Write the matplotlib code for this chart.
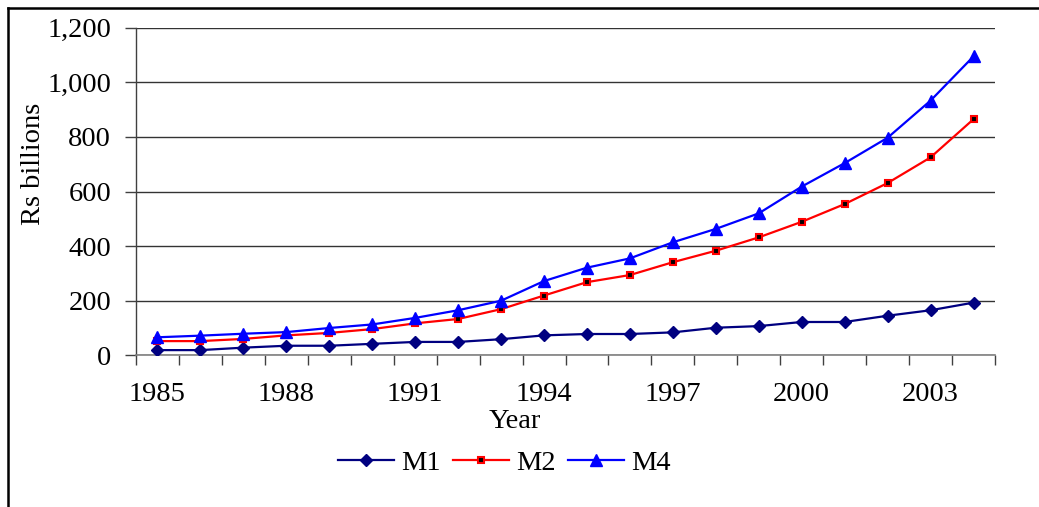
import numpy as np
import matplotlib
matplotlib.use("Agg")
import matplotlib.pyplot as plt
from matplotlib.lines import Line2D
from matplotlib.ticker import FuncFormatter

# Money supply aggregates, Rs billions
years = list(range(1985, 2005))
m1 = [19, 19, 28, 35, 35, 42, 49, 49, 59, 73, 78, 78, 84, 101, 107, 122, 122, 145, 165, 193]
m2 = [52, 52, 60, 73, 82, 96, 117, 133, 169, 219, 268, 294, 341, 383, 432, 489, 554, 631, 725, 865]
m4 = [66, 72, 79, 85, 100, 113, 137, 165, 200, 272, 321, 355, 414, 463, 520, 618, 704, 797, 933, 1095]
tick_years = [1985, 1988, 1991, 1994, 1997, 2000, 2003]

plt.rcParams['font.family'] = ['Liberation Serif', 'DejaVu Serif']
FS = 20.5

W, H = 1039, 507
fig = plt.figure(figsize=(W / 100, H / 100), dpi=100)
ax = fig.add_axes([136 / W, 1 - 355.3 / H, (995 - 136) / W, (355.3 - 27.7) / H])

x = np.arange(len(years))
ax.plot(x, m1, color='#000080', lw=1.6, marker='D', ms=6.2, mfc='#000080',
        mec='#000080', mew=1, label='M1', zorder=3)
ax.plot(x, m2, color='#FF0000', lw=1.6, marker='s', ms=3.8, mfc='black',
        mec='#FF0000', mew=1.5, label='M2', zorder=4)
ax.plot(x, m4, color='#0000FF', lw=1.6, marker='^', ms=8, mfc='#0000FF',
        mec='#0000FF', mew=1, label='M4', zorder=5)

ax.set_xlim(-0.5, len(years) - 0.5)
ax.set_ylim(0, 1200)
ax.set_yticks(np.arange(0, 1201, 200))
ax.yaxis.set_major_formatter(FuncFormatter(lambda v, p: f"{int(v):,}"))
ax.grid(axis='y', color='#333333', lw=1.0, zorder=1)
ax.set_axisbelow(True)

# category boundaries carry tick marks, labels sit under the points
ax.set_xticks(np.arange(-0.5, len(years), 1))
ax.set_xticklabels([])
ax.set_xticks([years.index(y) for y in tick_years], minor=True)
ax.set_xticklabels([str(y) for y in tick_years], minor=True, fontsize=FS)
ax.tick_params(axis='x', which='major', length=7, width=1, color='#404040', direction='out')
ax.tick_params(axis='x', which='minor', length=0, pad=19)
ax.tick_params(axis='y', length=8, width=1, color='#404040', direction='out',
               labelsize=FS, pad=10)

for s in ('top', 'right'):
    ax.spines[s].set_visible(False)
ax.spines['left'].set_color('#404040')
ax.spines['bottom'].set_color('#808080')
ax.spines['left'].set_linewidth(1)
ax.spines['bottom'].set_linewidth(1.2)

fig.text(515 / W, 1 - 421 / H, 'Year', fontsize=FS, ha='center', va='center')
fig.text(33 / W, 1 - 164 / H, 'Rs billions', fontsize=FS, ha='center', va='center',
         rotation=90)

ax.legend(loc='center', bbox_to_anchor=(504.5 / W, 1 - 463 / H),
          bbox_transform=fig.transFigure, ncol=3, frameon=False, fontsize=FS,
          handlelength=1.95, handletextpad=0.25, columnspacing=0.45,
          borderpad=0, borderaxespad=0)

# outer chart border
fig.add_artist(Line2D([8 / W, 1.01], [1 - 8 / H, 1 - 8 / H], color='black', lw=1.8,
                      transform=fig.transFigure))
fig.add_artist(Line2D([8 / W, 8 / W], [1 - 8 / H, -0.01], color='black', lw=1.8,
                      transform=fig.transFigure))

fig.savefig('out.png', dpi=100, facecolor='white')
